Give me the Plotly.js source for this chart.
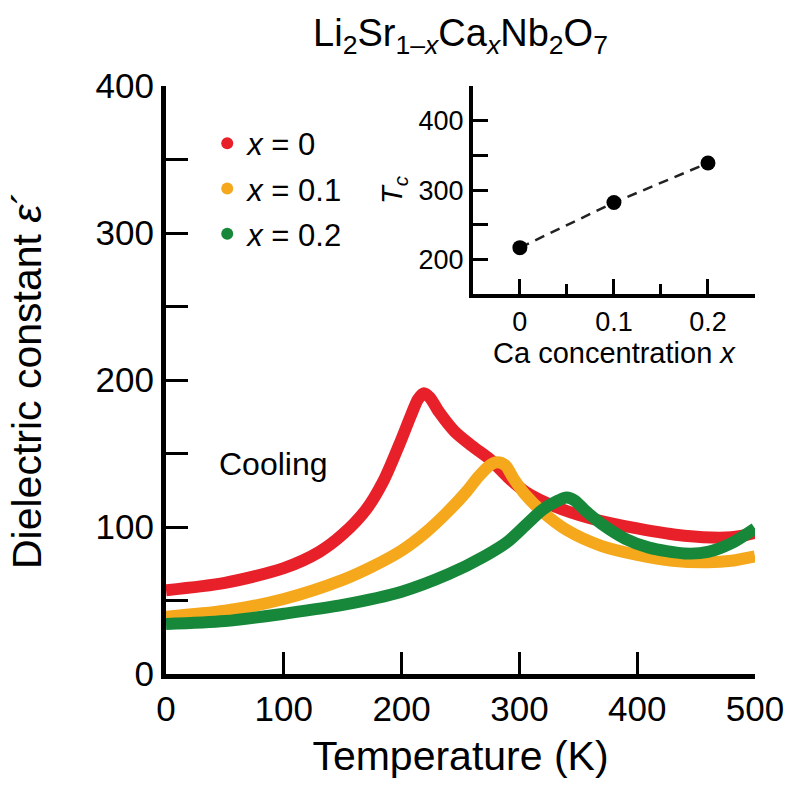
<!DOCTYPE html>
<html>
<head>
<meta charset="utf-8">
<script src="https://cdn.plot.ly/plotly-3.0.1.min.js"></script>
<style>html,body{margin:0;padding:0;background:#fff;}#chart{width:800px;height:798px;}</style>
</head>
<body>
<div id="chart"></div>
<script>
// Main panel: dielectric constant vs temperature (cooling)
const tempX0 = [0, 50, 100, 130, 150, 170, 185, 198, 208, 214, 219, 224, 232, 245, 260, 275, 290, 305, 330, 360, 400, 440, 480, 500];
const epsX0  = [57, 62, 72, 83, 95, 112, 132, 156, 176, 187, 191, 188, 178, 165, 155, 146, 134, 124, 114, 106, 99, 94, 93, 96];

const tempX01 = [0, 50, 100, 150, 175, 200, 220, 240, 255, 265, 275, 281, 288, 295, 305, 320, 340, 370, 400, 430, 460, 480, 500];
const epsX01  = [39, 43, 51, 64, 73, 84, 96, 111, 124, 134, 142, 144, 142, 133, 122, 110, 98, 87, 81, 77, 76, 77, 80];

const tempX02 = [0, 50, 100, 150, 200, 240, 270, 290, 305, 320, 333, 340, 347, 356, 370, 390, 410, 440, 460, 480, 500];
const epsX02  = [34, 36, 41, 47, 56, 68, 80, 90, 101, 112, 118, 120, 118, 111, 102, 92, 86, 82, 83, 89, 99];

const seriesNames = ['<i>x</i> = 0', '<i>x</i> = 0.1', '<i>x</i> = 0.2'];
const seriesColors = ['#e8202a', '#f5a81c', '#17883a'];

// Inset: Tc vs Ca concentration
const caConc = [0, 0.1, 0.2];
const tcVals = [217, 282, 339];

const mainXTicks = [0, 100, 200, 300, 400, 500];
const mainYTicks = [0, 50, 100, 150, 200, 250, 300, 350, 400];
const mainYLabels = ['0', '', '100', '', '200', '', '300', '', '400'];
const insetXTicks = [0, 0.1, 0.2];
const insetXLabels = ['0', '0.1', '0.2'];
const insetYTicks = [200, 250, 300, 350, 400];
const insetYLabels = ['200', '', '300', '', '400'];

const FONT = 'Liberation Sans, Arial, Helvetica, sans-serif';

const temps = [tempX0, tempX01, tempX02];
const eps = [epsX0, epsX01, epsX02];

const traces = [];
for (let i = 0; i < 3; i++) {
  traces.push({
    x: temps[i], y: eps[i], type: 'scatter', mode: 'lines',
    line: {color: seriesColors[i], width: 12, shape: 'spline', smoothing: 0.8},
    showlegend: false, xaxis: 'x', yaxis: 'y', hoverinfo: 'skip'
  });
}
for (let i = 0; i < 3; i++) {
  traces.push({
    x: [null], y: [null], type: 'scatter', mode: 'markers',
    marker: {color: seriesColors[i], size: 13},
    name: seriesNames[i], legendgroup: 'g' + i, showlegend: true,
    xaxis: 'x', yaxis: 'y'
  });
}
traces.push({
  x: caConc, y: tcVals, type: 'scatter', mode: 'lines+markers',
  line: {color: '#222', width: 2.5, dash: '10px,7px'},
  marker: {color: '#000', size: 15},
  showlegend: false, xaxis: 'x2', yaxis: 'y2'
});

const axisCommon = {
  showgrid: false, zeroline: false, showline: true, linecolor: '#000',
  ticks: 'inside', tickcolor: '#000', fixedrange: true
};

const layout = {
  width: 800, height: 798,
  margin: {l: 166, r: 45, t: 86, b: 124},
  paper_bgcolor: '#fff', plot_bgcolor: '#fff',
  font: {family: FONT, color: '#000'},
  title: {
    text: 'Li<sub>2</sub>Sr<sub>1\u2013<i>x</i></sub>Ca<sub><i>x</i></sub>Nb<sub>2</sub>O<sub>7</sub>',
    font: {size: 38, family: FONT, color: '#000'},
    xref: 'paper', x: 0.5, xanchor: 'center',
    yref: 'container', y: 0.959, yanchor: 'middle'
  },
  xaxis: Object.assign({}, axisCommon, {
    domain: [0, 1], anchor: 'y', range: [0, 500],
    tickmode: 'array', tickvals: mainXTicks,
    ticklen: 22, tickwidth: 3, linewidth: 5,
    tickfont: {size: 35, family: FONT},
    title: {text: 'Temperature (K)', font: {size: 41, family: FONT}, standoff: 16}
  }),
  yaxis: Object.assign({}, axisCommon, {
    domain: [0, 1], anchor: 'x', range: [0, 400],
    tickmode: 'array', tickvals: mainYTicks, ticktext: mainYLabels,
    ticklen: 22, tickwidth: 3, linewidth: 5,
    tickfont: {size: 35, family: FONT},
    title: {text: 'Dielectric constant <i>\u03b5</i>\u00b4', font: {size: 41, family: FONT}, standoff: 43}
  }),
  xaxis3: Object.assign({}, axisCommon, {
    overlaying: 'x', side: 'top', anchor: 'y', range: [0, 500],
    tickmode: 'array', tickvals: [100, 200],
    showticklabels: false, ticklen: 22, tickwidth: 3, linewidth: 5
  }),
  yaxis3: Object.assign({}, axisCommon, {
    overlaying: 'y', side: 'right', anchor: 'x', range: [0, 400],
    tickmode: 'array', tickvals: [50, 100, 150, 200, 250],
    showticklabels: false, ticklen: 22, tickwidth: 3, linewidth: 5
  }),
  xaxis2: Object.assign({}, axisCommon, {
    domain: [0.521, 1], anchor: 'y2', range: [-0.05, 0.25],
    tickmode: 'array', tickvals: insetXTicks, ticktext: insetXLabels,
    ticklen: 15, tickwidth: 3, linewidth: 4,
    minor: {tickmode: 'array', tickvals: [0.05, 0.15], ticks: 'inside', ticklen: 10, tickwidth: 3, tickcolor: '#000'},
    tickfont: {size: 27, family: FONT},
    title: {text: 'Ca concentration <i>x</i>', font: {size: 29, family: FONT}, standoff: 2}
  }),
  yaxis2: Object.assign({}, axisCommon, {
    domain: [0.646, 1], anchor: 'x2', range: [150, 450],
    tickmode: 'array', tickvals: insetYTicks, ticktext: insetYLabels,
    ticklen: 15, tickwidth: 3, linewidth: 4,
    tickfont: {size: 27, family: FONT},
    title: {text: '<i>T<sub>c</sub></i>', font: {size: 29, family: FONT}, standoff: 8}
  }),
  showlegend: true,
  legend: {
    x: 0.07, xanchor: 'left', y: 0.948, yanchor: 'top',
    bgcolor: 'rgba(0,0,0,0)', borderwidth: 0,
    font: {size: 31, family: FONT, color: '#000'},
    traceorder: 'grouped', tracegroupgap: 2, itemsizing: 'constant'
  },
  annotations: [{
    x: 91, y: 143, xref: 'x', yref: 'y', text: 'Cooling', showarrow: false,
    font: {size: 32, family: FONT, color: '#000'}, xanchor: 'center', yanchor: 'middle'
  }]
};

Plotly.newPlot('chart', traces, layout, {displayModeBar: false, staticPlot: true});
</script>
</body>
</html>
